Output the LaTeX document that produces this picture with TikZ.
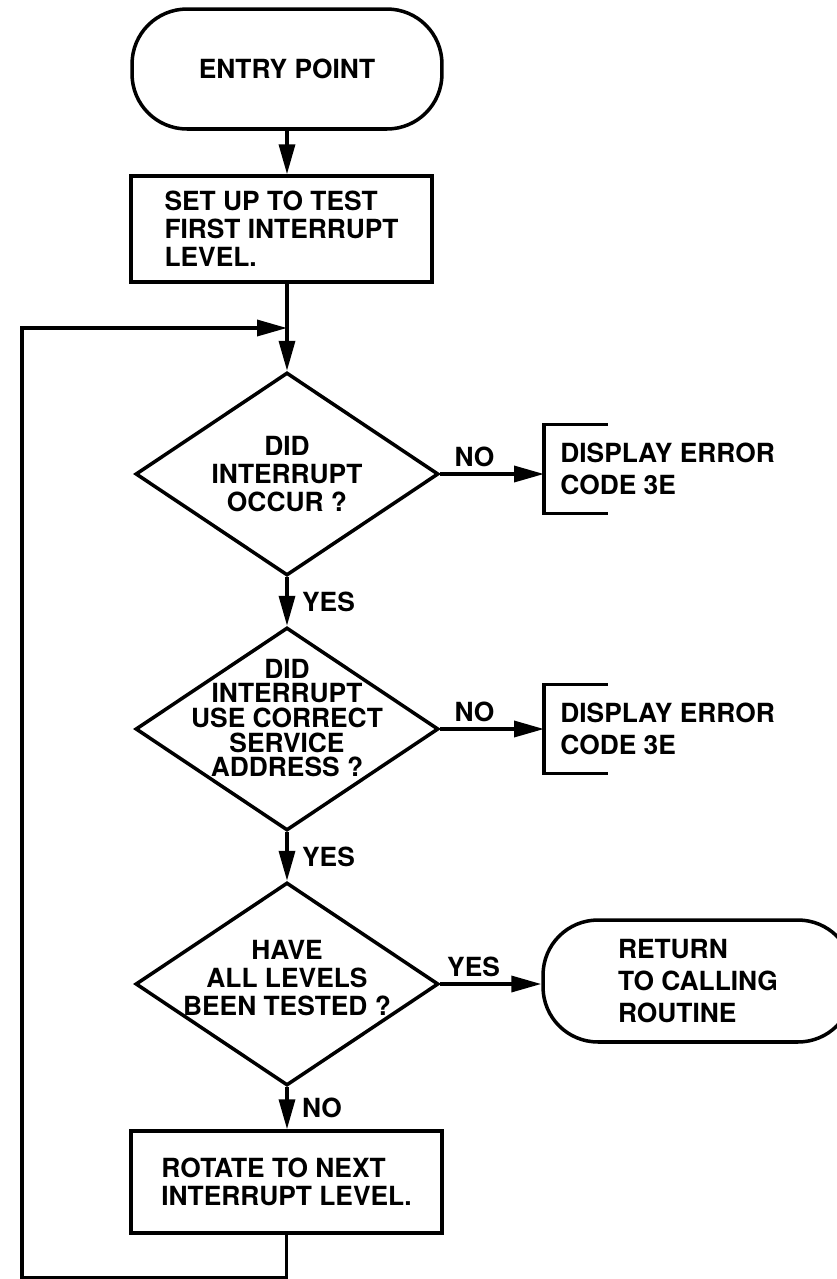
\documentclass[tikz,border=0pt]{standalone}
\usepackage{fontspec}
\setmainfont{TeX Gyre Heros}
\usetikzlibrary{arrows.meta,positioning,shapes.geometric}
\newcommand{\flowfont}{\bfseries\fontsize{15}{16}\selectfont}
\tikzset{
  chartline/.style={line width=2pt},
  termbox/.style={
    chartline,
    draw,
    rounded corners=1.1cm,
    minimum width=6.2cm,
    minimum height=2.4cm,
    align=left,
    font=\bfseries\fontsize{15}{18}\selectfont
  },
  stepbox/.style={
    chartline,
    draw,
    rectangle,
    align=left,
    font=\flowfont
  },
  decision/.style={
    chartline,
    draw,
    diamond,
    inner sep=0pt,
    minimum width=6.06cm,
    minimum height=4.06cm
  },
  qtext/.style={align=center, font=\flowfont},
  errbox/.style={
    anchor=west,
    align=left,
    inner xsep=0.32cm,
    minimum height=1.76cm,
    font=\bfseries\fontsize{15}{18}\selectfont
  },
  arrow/.style={
    chartline,
    -{Triangle[length=0.6cm,width=0.32cm]}
  },
  flowlabel/.style={font=\flowfont}
}
\begin{document}
\begin{tikzpicture}[x=0.02cm, y=-0.02cm]
\useasboundingbox (0,0) rectangle (837,1279);
% main column
\node[termbox] (entry) at (287,69) {ENTRY POINT};
\node[stepbox, minimum width=6.02cm, minimum height=2.12cm] (setup) at (281.5,229) {SET UP TO TEST\\FIRST INTERRUPT\\LEVEL.};
\node[decision] (occur) at (287,474) {};
\node[qtext] (occurtxt) at (occur.center) {DID\\INTERRUPT\\OCCUR ?};
\node[decision] (addr) at (287,729) {};
\node[qtext, font=\bfseries\fontsize{15}{14}\selectfont] (addrtxt) at ([yshift=0.22cm]addr.center) {DID\\INTERRUPT\\USE CORRECT\\SERVICE\\ADDRESS ?};
\node[decision] (tested) at (287,984) {};
\node[qtext] (testedtxt) at ([yshift=0.12cm]tested.center) {HAVE\\ALL LEVELS\\BEEN TESTED ?};
\node[stepbox, minimum width=6.22cm, minimum height=2.04cm] (rotate) at (286.5,1182) {ROTATE TO NEXT\\INTERRUPT LEVEL.};
% exits
\node[errbox] (err1) at (544,469) {DISPLAY ERROR\\CODE 3E};
\node[errbox] (err2) at (544,729) {DISPLAY ERROR\\CODE 3E};
\node[termbox, minimum height=2.44cm] (ret) at (698,981) {RETURN\\TO CALLING\\ROUTINE};
\coordinate (join) at (287,328);
\coordinate (loopcorner) at (22,1278);
\draw[chartline] ([xshift=1.28cm]err1.north west) -- (err1.north west) -- (err1.south west) -- ([xshift=1.28cm]err1.south west);
\draw[chartline] ([xshift=1.28cm]err2.north west) -- (err2.north west) -- (err2.south west) -- ([xshift=1.28cm]err2.south west);
% connectors
\draw[arrow] (entry.south) -- (entry.south |- setup.north);
\draw[arrow] (setup.south -| occur.north) -- (occur.north);
\draw[arrow] (occur.south) -- node[flowlabel, right, xshift=0.15cm] {YES} (addr.north);
\draw[arrow] (addr.south) -- node[flowlabel, right, xshift=0.15cm] {YES} (tested.north);
\draw[arrow] (tested.south) -- node[flowlabel, right, xshift=0.15cm] {NO} (rotate.north -| tested.south);
\draw[arrow] (occur.east) -- node[flowlabel, above, pos=0.33] {NO} (err1.west |- occur.east);
\draw[arrow] (addr.east) -- node[flowlabel, above, pos=0.33] {NO} (err2.west |- addr.east);
\draw[arrow] (tested.east) -- node[flowlabel, above, pos=0.33] {YES} (ret.west |- tested.east);
\draw[arrow] (rotate.south) |- (loopcorner) |- (join);
\end{tikzpicture}
\end{document}
